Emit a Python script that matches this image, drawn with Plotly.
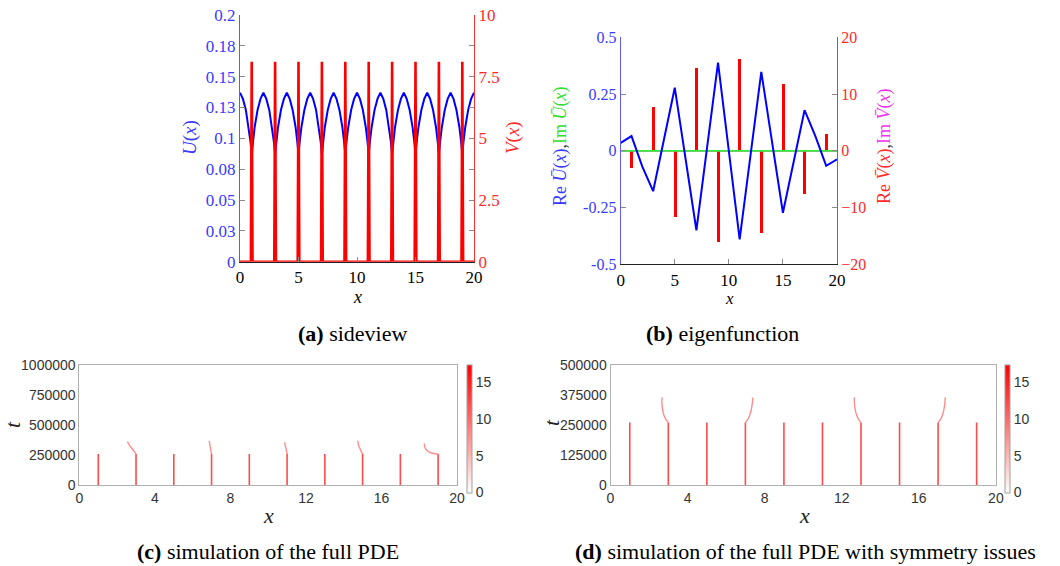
import plotly.graph_objects as go

W, H = 1060, 566

# ---------------- data ----------------
# (a) sideview: one period of U(x) between two even points
u_period_offsets = [0.0, 0.25, 0.5, 0.75, 0.9, 1.0, 1.1, 1.25, 1.5, 1.75]
u_period_values = [0.137, 0.132, 0.123, 0.109, 0.097, 0.087, 0.097, 0.109, 0.123, 0.132]
n_periods = 10
v_spike_x = [1, 3, 5, 7, 9, 11, 13, 15, 17, 19]
v_spike_h = [8.1, 8.1, 8.1, 8.1, 8.1, 8.1, 8.1, 8.1, 8.1, 8.1]
v_spike_halfwidth = 0.07

a_left_ticks = [0, 0.025, 0.05, 0.075, 0.1, 0.125, 0.15, 0.175, 0.2]
a_left_labels = ['0', '0.03', '0.05', '0.08', '0.1', '0.13', '0.15', '0.18', '0.2']
a_right_ticks = [0, 1.25, 2.5, 3.75, 5, 6.25, 7.5, 8.75, 10]
a_right_labels = ['0', '', '2.5', '', '5', '', '7.5', '', '10']

# (b) eigenfunction
reU_x = [0, 1, 2, 3, 5, 7, 9, 11, 13, 15, 17, 18, 19, 20]
reU = [0.035, 0.065, -0.07, -0.178, 0.278, -0.35, 0.388, -0.39, 0.348, -0.273, 0.179, 0.065, -0.066, -0.038]
imU_x = [0, 20]
imU = [0.0, 0.0]
reV_x = [1, 3, 5, 7, 9, 11, 13, 15, 17, 19]
reV = [-3.0, 7.6, -11.8, 14.5, -16.2, 16.1, -14.6, 11.7, -7.7, 2.9]
imV_x = [0, 20]
imV = [0.0, 0.0]
b_left_ticks = [-0.5, -0.25, 0, 0.25, 0.5]
b_left_labels = ['-0.5', '-0.25', '0', '0.25', '0.5']
b_right_ticks = [-20, -10, 0, 10, 20]

# (c) full PDE
c_spike_x = [1, 3, 5, 7, 9, 11, 13, 15, 17, 19]
c_spike_top = [258000] * 10
c_tail_x = [
    [3.0, 2.88, 2.77, 2.65, 2.54],
    [7.0, 6.95, 6.91, 6.88],
    [11.0, 10.95, 10.9, 10.87],
    [15.0, 14.88, 14.79, 14.75],
    [19.0, 18.85, 18.6, 18.4, 18.3, 18.27],
]
c_tail_t = [
    [258000, 285000, 306000, 333000, 361000],
    [258000, 300000, 335000, 368000],
    [258000, 300000, 330000, 355000],
    [258000, 297000, 328000, 369000],
    [258000, 260000, 270000, 290000, 310000, 345000],
]
c_t_ticks = [0, 250000, 500000, 750000, 1000000]

# (d) full PDE with symmetry issues
d_spike_x = [1, 3, 5, 7, 9, 11, 13, 15, 17, 19]
d_spike_top = [260000] * 10
d_tail_x = [
    [3.0, 2.84, 2.72, 2.67, 2.67],
    [7.0, 7.16, 7.28, 7.36, 7.38],
    [13.0, 12.84, 12.72, 12.66, 12.65],
    [17.0, 17.16, 17.28, 17.35, 17.37],
]
d_tail_t = [
    [260000, 278000, 306000, 340000, 365000],
    [260000, 278000, 306000, 340000, 365000],
    [260000, 278000, 306000, 340000, 365000],
    [260000, 278000, 306000, 340000, 365000],
]
d_t_ticks = [0, 125000, 250000, 375000, 500000]
pde_ticks_x = [0, 4, 8, 12, 16, 20]
cbar_max = 17.4
cbar_ticks = [0, 5, 10, 15]

# ---------------- helpers ----------------
def px(x):
    return x / W


def py(y):
    return 1 - y / H


u_x, u_y = [], []
for k in range(n_periods):
    for off, val in zip(u_period_offsets, u_period_values):
        u_x.append(2 * k + off)
        u_y.append(val)
u_x.append(2 * n_periods)
u_y.append(u_period_values[0])

v_x, v_y = [0.0], [0.0]
for xs, h in zip(v_spike_x, v_spike_h):
    v_x += [xs - v_spike_halfwidth, xs, xs + v_spike_halfwidth]
    v_y += [0.0, h, 0.0]
v_x.append(20.0)
v_y.append(0.0)

SERIF = "Liberation Serif"
SANS = "Liberation Sans"
BLUE_T = "#3a3aff"
RED_T = "#ff2a2a"
TICKC = "#8a8a8a"

fig = go.Figure()

# (a)
fig.add_trace(go.Scatter(x=u_x, y=u_y, mode='lines', line=dict(color='#0000ff', width=2),
                         xaxis='x', yaxis='y', showlegend=False, hoverinfo='skip'))
fig.add_trace(go.Scatter(x=v_x, y=v_y, mode='lines', line=dict(color='#ff0000', width=2.6),
                         xaxis='x', yaxis='y2', showlegend=False, hoverinfo='skip'))

# (b)  (red axis is the base, blue axis overlays so lines sit on top)
fig.add_trace(go.Scatter(x=imV_x, y=imV, mode='lines', line=dict(color='#ff00ff', width=1.5),
                         xaxis='x2', yaxis='y3', showlegend=False, hoverinfo='skip'))
fig.add_trace(go.Bar(x=reV_x, y=reV, width=0.28, marker=dict(color='#ff0000', line=dict(width=0)),
                     xaxis='x2', yaxis='y3', showlegend=False, hoverinfo='skip'))
fig.add_trace(go.Scatter(x=imU_x, y=imU, mode='lines', line=dict(color='#33ee33', width=1.8),
                         xaxis='x2', yaxis='y4', showlegend=False, hoverinfo='skip'))
fig.add_trace(go.Scatter(x=reU_x, y=reU, mode='lines', line=dict(color='#0000ff', width=2),
                         xaxis='x2', yaxis='y4', showlegend=False, hoverinfo='skip'))

SPIKE_C = 'rgb(255,75,75)'
TAIL_C = 'rgb(255,140,140)'
CSCALE = [[0, 'white'], [1, 'red']]

# (c)
for xs, top in zip(c_spike_x, c_spike_top):
    fig.add_trace(go.Scatter(x=[xs, xs], y=[0, top], mode='lines', line=dict(color=SPIKE_C, width=1.6),
                             xaxis='x3', yaxis='y5', showlegend=False, hoverinfo='skip'))
for tx, tt in zip(c_tail_x, c_tail_t):
    fig.add_trace(go.Scatter(x=tx, y=tt, mode='lines', line=dict(color=TAIL_C, width=1.4, shape='spline'),
                             xaxis='x3', yaxis='y5', showlegend=False, hoverinfo='skip'))
# (d)
for xs, top in zip(d_spike_x, d_spike_top):
    fig.add_trace(go.Scatter(x=[xs, xs], y=[0, top], mode='lines', line=dict(color=SPIKE_C, width=1.6),
                             xaxis='x4', yaxis='y6', showlegend=False, hoverinfo='skip'))
for tx, tt in zip(d_tail_x, d_tail_t):
    fig.add_trace(go.Scatter(x=tx, y=tt, mode='lines', line=dict(color=TAIL_C, width=1.4, shape='spline'),
                             xaxis='x4', yaxis='y6', showlegend=False, hoverinfo='skip'))


def cbar_trace(xa, ya, xpos):
    return go.Scatter(
        x=[1, 1], y=[0, 0], mode='markers', xaxis=xa, yaxis=ya, showlegend=False, hoverinfo='skip',
        marker=dict(size=1, opacity=0, color=[0, cbar_max], cmin=0, cmax=cbar_max, colorscale=CSCALE,
                    showscale=True,
                    colorbar=dict(x=px(xpos), xanchor='left', xpad=0, y=py(364.5), yanchor='top', ypad=0,
                                  thickness=5, thicknessmode='pixels', len=128, lenmode='pixels',
                                  outlinewidth=1, outlinecolor='#a0a0a0', ticks='',
                                  tickvals=cbar_ticks, tickfont=dict(family=SANS, size=14, color='#333333'))))


fig.add_trace(cbar_trace('x3', 'y5', 466.7))
fig.add_trace(cbar_trace('x4', 'y6', 1005.0))

common_lin = dict(showgrid=False, zeroline=False, showline=True)

fig.update_layout(
    width=W, height=H, autosize=False,
    margin=dict(l=0, r=0, t=0, b=0, pad=0, autoexpand=False),
    paper_bgcolor='white', plot_bgcolor='rgba(0,0,0,0)',
    bargap=0,
    xaxis=dict(domain=[px(240), px(474)], anchor='y', range=[0, 20], tickvals=[0, 5, 10, 15, 20],
               ticks='inside', ticklen=5, tickcolor=TICKC, linecolor='#222222', linewidth=1.2,
               tickfont=dict(family=SERIF, size=17, color='black'), **common_lin),
    yaxis=dict(domain=[py(261.7), py(15)], anchor='x', range=[0, 0.2], tickvals=a_left_ticks,
               ticktext=a_left_labels, ticks='inside', ticklen=5, tickcolor=TICKC,
               linecolor='#5a5aff', linewidth=1.2, tickfont=dict(family=SERIF, size=17, color=BLUE_T),
               **common_lin),
    yaxis2=dict(overlaying='y', side='right', anchor='x', range=[0, 10], tickvals=a_right_ticks,
                ticktext=a_right_labels, ticks='inside', ticklen=5, tickcolor=TICKC,
                linecolor='#ff3030', linewidth=1.2, tickfont=dict(family=SERIF, size=17, color=RED_T),
                **common_lin),
    xaxis2=dict(domain=[px(620.7), px(837)], anchor='y3', range=[0, 20], tickvals=[0, 5, 10, 15, 20],
                ticks='inside', ticklen=5, tickcolor=TICKC, linecolor='#222222', linewidth=1.2,
                tickfont=dict(family=SERIF, size=17, color='black'), **common_lin),
    yaxis3=dict(domain=[py(264.3), py(37.3)], anchor='x2', side='right', range=[-20, 20],
                tickvals=b_right_ticks, ticks='inside', ticklen=5, tickcolor=TICKC,
                linecolor='#ff3030', linewidth=1.2, tickfont=dict(family=SERIF, size=16, color=RED_T),
                **common_lin),
    yaxis4=dict(overlaying='y3', side='left', anchor='x2', range=[-0.5, 0.5], tickvals=b_left_ticks,
                ticktext=b_left_labels, ticks='inside', ticklen=5, tickcolor=TICKC,
                linecolor='#5a5aff', linewidth=1.2, tickfont=dict(family=SERIF, size=16, color=BLUE_T),
                **common_lin),
    xaxis3=dict(domain=[px(79.4), px(457)], anchor='y5', range=[0, 20], tickvals=pde_ticks_x,
                ticks='', mirror=True, linecolor='#b0b0b0', linewidth=1,
                tickfont=dict(family=SANS, size=14, color='#333333'), **common_lin),
    yaxis5=dict(domain=[py(485), py(365)], anchor='x3', range=[0, 1000000], tickvals=c_t_ticks,
                ticktext=[str(v) for v in c_t_ticks], ticks='', mirror=True, linecolor='#b0b0b0', linewidth=1,
                tickfont=dict(family=SANS, size=14, color='#333333'), **common_lin),
    xaxis4=dict(domain=[px(610.5), px(995.9)], anchor='y6', range=[0, 20], tickvals=pde_ticks_x,
                ticks='', mirror=True, linecolor='#b0b0b0', linewidth=1,
                tickfont=dict(family=SANS, size=14, color='#333333'), **common_lin),
    yaxis6=dict(domain=[py(485), py(365)], anchor='x4', range=[0, 500000], tickvals=d_t_ticks,
                ticktext=[str(v) for v in d_t_ticks], ticks='', mirror=True, linecolor='#b0b0b0', linewidth=1,
                tickfont=dict(family=SANS, size=14, color='#333333'), **common_lin),
)


def ann(x, y, text, size, color='black', angle=0, family=SERIF):
    return dict(x=px(x), y=py(y), xref='paper', yref='paper', text=text, showarrow=False,
                xanchor='center', yanchor='middle', textangle=angle,
                font=dict(family=family, size=size, color=color))


annotations = [
    ann(190, 138, '<i>U</i>(<i>x</i>)', 19, BLUE_T, -90),
    ann(513, 138, '<i>V</i>(<i>x</i>)', 19, RED_T, -90),
    ann(357, 297, '<i>x</i>', 18),
    ann(560, 146, "<span style='color:#3a3aff'>Re <i>Ū</i>(<i>x</i>)</span>,"
                  "<span style='color:#33dd33'>Im <i>Ū</i>(<i>x</i>)</span>", 18, '#333333', -90),
    ann(884, 146, "<span style='color:#ff2a2a'>Re <i>V̄</i>(<i>x</i>)</span>,"
                  "<span style='color:#ee33ee'>Im <i>V̄</i>(<i>x</i>)</span>", 18, '#333333', -90),
    ann(729, 298, '<i>x</i>', 17),
    ann(12, 425, '<i>t</i>', 22, '#222222', -90),
    ann(268, 515, '<i>x</i>', 22, '#222222'),
    ann(551, 423, '<i>t</i>', 22, '#222222', -90),
    ann(804, 515, '<i>x</i>', 22, '#222222'),
    ann(352, 333, '<b>(a)</b> sideview', 22),
    ann(722, 333, '<b>(b)</b> eigenfunction', 22),
    ann(268, 551, '<b>(c)</b> simulation of the full PDE', 22),
    ann(805, 551, '<b>(d)</b> simulation of the full PDE with symmetry issues', 22),
]
fig.update_layout(annotations=annotations)

fig.write_html("out.html", config=dict(displayModeBar=False),
               post_script="document.body.style.margin='0px';document.body.style.overflow='hidden';")
